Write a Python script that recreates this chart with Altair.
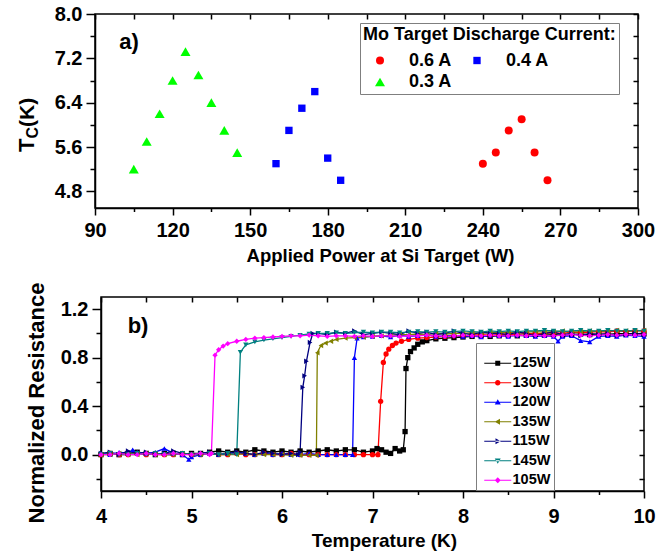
import altair as alt
import pandas as pd

FONT = "Liberation Sans"

# ---------------- panel (a): Tc versus applied Si power ----------------
currents = ["0.6 A", "0.3 A", "0.4 A"]
current_colors = ["#ff0000", "#00ff00", "#0000ff"]
current_shapes = ["circle", "triangle-up", "square"]
current_sizes = [64, 100, 54]

power_06 = [240, 245, 250, 255, 260, 265]
tc_06 = [5.3, 5.5, 5.9, 6.1, 5.5, 5.0]
power_04 = [160, 165, 170, 175, 180, 185]
tc_04 = [5.3, 5.9, 6.3, 6.6, 5.4, 5.0]
power_03 = [105, 110, 115, 120, 125, 130, 135, 140, 145]
tc_03 = [5.2, 5.7, 6.2, 6.8, 7.32, 6.9, 6.4, 5.9, 5.5]

a_x_domain = [90, 300]
a_y_domain = [4.5, 8.0]
a_x_major = [90, 120, 150, 180, 210, 240, 270, 300]
a_x_minor = [105, 135, 165, 195, 225, 255, 285]
a_y_major = [4.8, 5.6, 6.4, 7.2, 8.0]
a_y_minor = [5.2, 6.0, 6.8, 7.6]

# ---------------- panel (b): R(T) curves ----------------
series = ["125W", "130W", "120W", "135W", "115W", "145W", "105W"]
series_colors = ["#000000", "#ff0000", "#0000ff", "#808000", "#000080", "#008080", "#ff00ff"]
series_shapes = ["square", "circle", "triangle-up", "triangle-left",
                 "triangle-right", "triangle-down", "diamond"]
legend_paths = [
    "M-2.7,-0.1H2.7V0.1H-2.7Z M-0.5,-0.5H0.5V0.5H-0.5Z",
    "M-2.7,-0.1H2.7V0.1H-2.7Z M0.55,0A0.55,0.55,0,1,1,-0.55,0A0.55,0.55,0,1,1,0.55,0Z",
    "M-2.7,-0.1H2.7V0.1H-2.7Z M0,-0.6L0.6,0.45H-0.6Z",
    "M-2.7,-0.1H2.7V0.1H-2.7Z M-0.6,0L0.45,-0.6V0.6Z",
    "M-2.7,-0.1H2.7V0.1H-2.7Z M0.6,0L-0.45,-0.6V0.6Z",
    "M-2.7,-0.1H2.7V0.1H-2.7Z M0,0.6L0.6,-0.45H-0.6Z",
    "M-2.7,-0.1H2.7V0.1H-2.7Z M0,-0.6L0.6,0L0,0.6L-0.6,0Z",
]

t_125 = [4.0, 4.1, 4.2, 4.3, 4.4, 4.5, 4.6, 4.7, 4.8, 4.9,
         5.0, 5.1, 5.2, 5.3, 5.4, 5.5, 5.6, 5.7, 5.8, 5.9,
         6.0, 6.1, 6.2, 6.3, 6.4, 6.5, 6.6, 6.7, 6.8, 6.9,
         7.0, 7.05, 7.1, 7.15, 7.2, 7.25, 7.3, 7.34,
         7.36, 7.37, 7.39, 7.42, 7.46, 7.5, 7.55, 7.6, 7.7, 7.8, 7.9,
         8.0, 8.1, 8.2, 8.3, 8.4, 8.5, 8.6, 8.7, 8.8, 8.9,
         9.0, 9.1, 9.2, 9.3, 9.4, 9.5, 9.6, 9.7, 9.8, 9.9, 10.0]
r_125 = [0.0, 0.01, 0.0, 0.01, 0.02, 0.01, 0.0, 0.01, 0.01, 0.0,
         0.01, 0.01, 0.02, 0.03, 0.02, 0.03, 0.02, 0.04, 0.03, 0.02,
         0.03, 0.02, 0.03, 0.02, 0.03, 0.04, 0.03, 0.04, 0.04, 0.02,
         0.03, 0.05, 0.04, 0.02, 0.01, 0.05, 0.03, 0.04,
         0.19, 0.71, 0.8, 0.85, 0.88, 0.91, 0.93, 0.94, 0.955, 0.96, 0.965,
         0.97, 0.975, 0.98, 0.975, 0.98, 0.985, 0.98, 0.985, 0.99, 0.985,
         0.99, 0.985, 0.99, 0.995, 0.99, 0.995, 0.99, 1.0, 0.995, 1.0, 0.995]

t_130 = [4.0, 4.1, 4.2, 4.3, 4.4, 4.5, 4.6, 4.7, 4.8, 4.9,
         5.0, 5.1, 5.2, 5.3, 5.4, 5.5, 5.6, 5.7, 5.8, 5.9,
         6.0, 6.1, 6.2, 6.3, 6.4, 6.5, 6.6, 6.7, 6.8, 6.9,
         7.0, 7.06, 7.09, 7.12, 7.15, 7.18, 7.22, 7.26, 7.32, 7.4, 7.5, 7.6, 7.7, 7.8, 7.9,
         8.0, 8.1, 8.2, 8.3, 8.4, 8.5, 8.6, 8.7, 8.8, 8.9,
         9.0, 9.1, 9.2, 9.3, 9.4, 9.5, 9.6, 9.7, 9.8, 9.9, 10.0]
r_130 = [0.0, 0.01, 0.0, 0.0, 0.01, 0.0, 0.01, 0.0, 0.0, 0.01,
         0.0, 0.0, 0.01, 0.0, 0.0, 0.01, 0.0, 0.0, 0.01, 0.0,
         0.0, 0.01, 0.0, 0.0, 0.0, 0.0, 0.0, 0.0, 0.0, 0.0,
         0.0, 0.0, 0.44, 0.76, 0.83, 0.87, 0.9, 0.92, 0.935, 0.95, 0.96, 0.965, 0.97, 0.975, 0.98,
         0.98, 0.985, 0.99, 0.985, 0.99, 0.995, 0.99, 1.0, 0.995, 1.0,
         1.005, 1.0, 1.01, 1.005, 1.01, 1.015, 1.01, 1.02, 1.015, 1.02, 1.02]

t_120 = [4.0, 4.1, 4.2, 4.3, 4.35, 4.4, 4.5, 4.6, 4.7, 4.8, 4.9, 4.97,
         5.0, 5.1, 5.2, 5.3, 5.4, 5.5, 5.6, 5.7, 5.8, 5.9,
         6.0, 6.1, 6.2, 6.3, 6.4, 6.5, 6.6, 6.7,
         6.78, 6.8, 6.83, 6.9,
         7.0, 7.1, 7.2, 7.3, 7.4, 7.5, 7.6, 7.7, 7.8, 7.9,
         8.0, 8.1, 8.2, 8.3, 8.4, 8.5, 8.6, 8.7, 8.8, 8.9,
         9.0, 9.05, 9.1, 9.2, 9.3, 9.4, 9.5, 9.6, 9.7, 9.8, 9.9, 10.0]
r_120 = [0.01, 0.0, 0.02, 0.01, 0.04, 0.02, 0.01, 0.02, 0.05, 0.01, 0.0, -0.04,
         -0.02, 0.0, 0.01, 0.0, 0.01, 0.02, 0.01, 0.0, 0.01, 0.0,
         0.01, 0.0, 0.0, 0.01, 0.0, 0.0, 0.0, 0.0,
         0.0, 0.8, 0.96, 0.97,
         0.975, 0.98, 0.97, 0.985, 0.975, 0.98, 0.99, 0.975, 0.98, 0.985,
         0.975, 0.98, 0.97, 0.985, 0.98, 0.975, 0.985, 0.98, 0.975, 0.98,
         0.975, 0.935, 0.975, 0.98, 0.94, 0.93, 0.975, 0.98, 0.975, 0.985, 0.98, 0.975]

t_135 = [4.0, 4.1, 4.2, 4.3, 4.4, 4.5, 4.6, 4.7, 4.8, 4.9,
         5.0, 5.1, 5.2, 5.3, 5.4, 5.5, 5.6, 5.7, 5.8, 5.9,
         6.0, 6.1, 6.2, 6.3,
         6.38, 6.39, 6.43, 6.48, 6.54, 6.6, 6.7, 6.8, 6.9,
         7.0, 7.1, 7.2, 7.3, 7.4, 7.5, 7.6, 7.7, 7.8, 7.9,
         8.0, 8.1, 8.2, 8.3, 8.4, 8.5, 8.6, 8.7, 8.8, 8.9,
         9.0, 9.1, 9.2, 9.3, 9.4, 9.5, 9.6, 9.7, 9.8, 9.9, 10.0]
r_135 = [0.0, 0.0, 0.01, 0.0, 0.0, 0.01, 0.0, 0.0, 0.0, 0.01,
         0.0, 0.0, 0.01, 0.0, 0.0, 0.0, 0.01, 0.0, 0.0, 0.0,
         0.0, -0.005, -0.005, -0.005,
         -0.005, 0.84, 0.9, 0.92, 0.935, 0.95, 0.96, 0.965, 0.97,
         0.975, 0.98, 0.985, 0.99, 0.99, 0.995, 0.99, 1.0, 0.995, 1.0,
         1.0, 1.005, 1.0, 1.01, 1.005, 1.01, 1.0, 1.01, 1.015, 1.01,
         1.015, 1.02, 1.01, 1.015, 1.02, 1.015, 1.02, 1.025, 1.02, 1.02, 1.025]

t_115 = [4.0, 4.1, 4.2, 4.3, 4.4, 4.5, 4.6, 4.7, 4.8, 4.9,
         5.0, 5.1, 5.2, 5.3, 5.4, 5.5, 5.6, 5.7, 5.8, 5.9,
         6.0, 6.1,
         6.18, 6.2, 6.23, 6.25, 6.27, 6.31, 6.34,
         6.4, 6.5, 6.6, 6.7, 6.8, 6.9,
         7.0, 7.1, 7.2, 7.3, 7.4, 7.5, 7.6, 7.7, 7.8, 7.9,
         8.0, 8.1, 8.2, 8.3, 8.4, 8.5, 8.6, 8.7, 8.8, 8.9,
         9.0, 9.1, 9.2, 9.3, 9.4, 9.5, 9.6, 9.7, 9.8, 9.9, 10.0]
r_115 = [0.01, 0.02, 0.0, 0.03, 0.01, 0.02, 0.0, 0.01, 0.03, 0.01,
         0.0, 0.01, 0.02, 0.0, 0.01, 0.02, 0.01, 0.0, 0.02, 0.01,
         0.0, 0.01,
         0.0, 0.02, 0.555, 0.65, 0.77, 0.925, 1.0,
         1.0, 0.99, 1.01, 1.0, 1.02, 0.99,
         1.0, 1.01, 1.0, 0.99, 1.02, 1.0, 1.01, 0.99, 1.0, 1.02,
         1.0, 0.99, 1.01, 1.0, 1.0, 0.99, 1.01, 1.0, 0.98, 1.0,
         1.01, 0.99, 1.0, 0.98, 1.0, 0.99, 1.0, 0.98, 0.99, 1.0, 0.99]

t_145 = [4.0, 4.1, 4.2, 4.3, 4.4, 4.5, 4.6, 4.7, 4.8, 4.9,
         5.0, 5.1, 5.2, 5.3, 5.4, 5.5,
         5.54, 5.6, 5.7, 5.8, 5.9, 6.0, 6.1, 6.2, 6.3,
         6.4, 6.5, 6.6, 6.7, 6.8, 6.9,
         7.0, 7.1, 7.2, 7.3, 7.4, 7.5, 7.6, 7.7, 7.8, 7.9,
         8.0, 8.1, 8.2, 8.3, 8.4, 8.5, 8.6, 8.7, 8.8, 8.9,
         9.0, 9.1, 9.2, 9.3, 9.4, 9.5, 9.6, 9.7, 9.8, 9.9, 10.0]
r_145 = [0.0, 0.01, 0.0, 0.0, 0.01, 0.0, 0.01, 0.0, 0.0, 0.01,
         0.0, 0.0, 0.01, 0.0, 0.01, 0.0,
         0.845, 0.905, 0.93, 0.945, 0.955, 0.965, 0.975, 0.985, 0.995,
         1.0, 1.0, 1.005, 1.0, 1.005, 1.01,
         1.005, 1.01, 1.01, 1.005, 1.01, 1.015, 1.01, 1.015, 1.01, 1.015,
         1.02, 1.015, 1.01, 1.02, 1.015, 1.02, 1.015, 1.02, 1.02, 1.025,
         1.02, 1.015, 1.02, 1.025, 1.02, 1.02, 1.025, 1.02, 1.02, 1.025, 1.02]

t_105 = [4.0, 4.1, 4.2, 4.3, 4.4, 4.5, 4.6, 4.7, 4.8, 4.9,
         5.0, 5.1, 5.2,
         5.22, 5.26, 5.3, 5.35, 5.4, 5.5, 5.6, 5.7, 5.8, 5.9, 6.0, 6.1, 6.2, 6.3,
         6.4, 6.5, 6.6, 6.7, 6.8, 6.9,
         7.0, 7.1, 7.2, 7.3, 7.4, 7.5, 7.6, 7.7, 7.8, 7.9,
         8.0, 8.1, 8.2, 8.3, 8.4, 8.5, 8.6, 8.7, 8.8, 8.9,
         9.0, 9.1, 9.2, 9.3, 9.4, 9.5, 9.6, 9.7, 9.8, 9.9, 10.0]
r_105 = [0.0, 0.0, 0.01, 0.0, 0.0, 0.01, 0.0, 0.0, 0.01, 0.0,
         0.0, 0.01, 0.0,
         0.01, 0.82, 0.865, 0.895, 0.915, 0.935, 0.95, 0.96, 0.965, 0.97, 0.975, 0.98, 0.98, 0.985,
         0.98, 0.975, 0.98, 0.98, 0.975, 0.98,
         0.975, 0.98, 0.98, 0.975, 0.98, 0.98, 0.985, 0.98, 0.975, 0.98,
         0.985, 0.98, 0.98, 0.985, 0.98, 0.98, 0.985, 0.98, 0.985, 0.98,
         0.98, 0.985, 0.99, 0.985, 0.98, 0.985, 0.99, 0.985, 0.99, 0.985, 0.99]

b_x_domain = [4, 10]
b_y_domain = [-0.3, 1.3]
b_x_major = [4, 5, 6, 7, 8, 9, 10]
b_x_minor = [4.5, 5.5, 6.5, 7.5, 8.5, 9.5]
b_y_major = [0.0, 0.4, 0.8, 1.2]
b_y_minor = [-0.2, 0.2, 0.6, 1.0]

# ---------------- tables ----------------
df_a = pd.DataFrame({
    "power": power_06 + power_04 + power_03,
    "tc": tc_06 + tc_04 + tc_03,
    "current": ["0.6 A"] * len(power_06) + ["0.4 A"] * len(power_04)
               + ["0.3 A"] * len(power_03),
})

temps = [t_125, t_130, t_120, t_135, t_115, t_145, t_105]
ress = [r_125, r_130, r_120, r_135, r_115, r_145, r_105]
rows = []
for name, tl, rl in zip(series, temps, ress):
    if len(tl) != len(rl):
        raise ValueError(f"length mismatch {name}: {len(tl)} vs {len(rl)}")
    for tv, rv in zip(tl, rl):
        rows.append({"T": tv, "R": rv, "sample": name})
df_b = pd.DataFrame(rows)
df_key = pd.DataFrame({"key": series})


def tick_axis(orient, values, size, offset=0):
    return alt.Axis(orient=orient, values=values, tickSize=size, offset=offset,
                    labels=False, domain=False, title=None, grid=False, ticks=True)


def text_layer(txt, x, y, size, angle=0, align="center", baseline="middle"):
    kw = dict(font=FONT, fontWeight="bold", fontSize=size, align=align,
              baseline=baseline, color="black")
    if angle:
        kw["angle"] = angle
    return alt.Chart(pd.DataFrame({"t": [txt]})).mark_text(**kw).encode(
        x=alt.value(x), y=alt.value(y), text="t:N")


# ---------------- panel (a) ----------------
xa = alt.Scale(domain=a_x_domain, nice=False, zero=False)
ya = alt.Scale(domain=a_y_domain, nice=False, zero=False)

legend_a = alt.Legend(
    title="Mo Target Discharge Current:", orient="none", legendX=265, legendY=9,
    columns=2, padding=3, strokeColor="#7f7f7f", fillColor="white",
    titleFont=FONT, titleFontSize=18, titleFontWeight="bold", titleColor="black",
    titleLimit=500, titlePadding=7.5, labelFont=FONT, labelFontSize=18,
    labelFontWeight="bold", labelColor="black", labelLimit=200,
    symbolSize=64, symbolOffset=8, labelOffset=20,
    columnPadding=7, rowPadding=3.5, symbolStrokeWidth=0, symbolOpacity=1)

points_a = alt.Chart(df_a).mark_point(filled=True, opacity=1).encode(
    x=alt.X("power:Q", scale=xa, axis=alt.Axis(
        orient="bottom", values=a_x_major, tickSize=7, labelPadding=5,
        labelFlush=False, labelOverlap=False, format="d",
        title="Applied Power at Si Target (W)", titleFontSize=18.5,
        titleX=285, titleY=53, titleAlign="center", titleBaseline="alphabetic",
        grid=False)),
    y=alt.Y("tc:Q", scale=ya, axis=alt.Axis(
        orient="left", values=a_y_major, tickSize=9, labelPadding=4,
        format=".1f", labelOverlap=False, title=None, grid=False)),
    color=alt.Color("current:N", scale=alt.Scale(domain=currents, range=current_colors),
                    legend=legend_a),
    shape=alt.Shape("current:N", scale=alt.Scale(domain=currents, range=current_shapes),
                    legend=legend_a),
    size=alt.Size("current:N", scale=alt.Scale(type="ordinal", domain=currents,
                                               range=current_sizes),
                  legend=None),
)

minor_a = alt.Chart(df_a).mark_point(opacity=0).encode(
    x=alt.X("power:Q", scale=xa, axis=tick_axis("bottom", a_x_minor, 3.5)),
    y=alt.Y("tc:Q", scale=ya, axis=tick_axis("left", a_y_minor, 5)),
)
mirror_a = alt.Chart(df_a).mark_point(opacity=0).encode(
    x=alt.X("power:Q", scale=xa, axis=tick_axis("top", a_x_major + a_x_minor, 5, -5)),
    y=alt.Y("tc:Q", scale=ya, axis=tick_axis("right", a_y_major + a_y_minor, 5, -5)),
)

panel_a = alt.layer(
    points_a, minor_a, mirror_a,
    text_layer("a)", 34, 28, 22),
    text_layer("T", -61, 138, 22, angle=270, align="left", baseline="alphabetic"),
    text_layer("C", -57, 124.5, 16, angle=270, align="left", baseline="alphabetic"),
    text_layer("(K)", -61, 113, 21, angle=270, align="left", baseline="alphabetic"),
).resolve_axis(x="independent", y="independent").properties(width=543, height=194)

# ---------------- panel (b) ----------------
xb = alt.Scale(domain=b_x_domain, nice=False, zero=False)
yb = alt.Scale(domain=b_y_domain, nice=False, zero=False)
color_b = alt.Scale(domain=series, range=series_colors)

lines_b = alt.Chart(df_b).mark_line(strokeWidth=1.3).encode(
    x=alt.X("T:Q", scale=xb, axis=alt.Axis(
        orient="bottom", values=b_x_major, tickSize=7, labelPadding=8,
        labelFlush=False, labelOverlap=False, format="d",
        title="Temperature (K)", titleFontSize=19, titleX=283, titleY=55,
        titleAlign="center", titleBaseline="alphabetic", grid=False)),
    y=alt.Y("R:Q", scale=yb, axis=alt.Axis(
        orient="left", values=b_y_major, tickSize=9, labelPadding=4,
        format=".1f", labelOverlap=False, title="Normalized Resistance",
        titleFontSize=22, titleX=-65, titleY=105.5, titleAngle=270,
        titleAlign="center", titleBaseline="middle", grid=False)),
    color=alt.Color("sample:N", scale=color_b, legend=None),
)

points_b = alt.Chart(df_b).mark_point(filled=True, size=28, opacity=1).encode(
    x=alt.X("T:Q", scale=xb, axis=None),
    y=alt.Y("R:Q", scale=yb, axis=None),
    color=alt.Color("sample:N", scale=color_b, legend=None),
    shape=alt.Shape("sample:N", scale=alt.Scale(domain=series, range=series_shapes),
                    legend=None),
)

legend_b = alt.Legend(
    title=" ", orient="none", legendX=375, legendY=46, padding=3,
    strokeColor="#7f7f7f", fillColor="white", titleFontSize=10, titlePadding=0,
    labelFont=FONT, labelFontSize=14.5, labelFontWeight="bold", labelColor="black",
    symbolSize=100, symbolOffset=11.5, labelOffset=7.5, rowPadding=4.5,
    symbolStrokeWidth=0, symbolOpacity=1)

key_b = alt.Chart(df_key).transform_filter("false").mark_point(filled=True).encode(
    color=alt.Color("key:N", scale=alt.Scale(domain=series, range=series_colors),
                    legend=legend_b),
    shape=alt.Shape("key:N", scale=alt.Scale(domain=series, range=legend_paths),
                    legend=legend_b),
)

minor_b = alt.Chart(df_b).mark_point(opacity=0).encode(
    x=alt.X("T:Q", scale=xb, axis=tick_axis("bottom", b_x_minor, 3.5)),
    y=alt.Y("R:Q", scale=yb, axis=tick_axis("left", b_y_minor, 5)),
)
mirror_b = alt.Chart(df_b).mark_point(opacity=0).encode(
    x=alt.X("T:Q", scale=xb, axis=tick_axis("top", b_x_major + b_x_minor, 5, -5)),
    y=alt.Y("R:Q", scale=yb, axis=tick_axis("right", b_y_major + b_y_minor, 5, -5)),
)

panel_b = alt.layer(
    lines_b, points_b, minor_b, mirror_b, key_b,
    text_layer("b)", 37, 29, 22),
).resolve_axis(x="independent", y="independent").resolve_scale(
    color="independent", shape="independent").properties(width=543, height=194)

spacer = alt.Chart(pd.DataFrame({"s": [""]})).mark_text().encode(text="s:N").properties(
    width=1, height=194, view=alt.ViewBackground(stroke="transparent"))

bottom_row = alt.hconcat(spacer, panel_b, spacing=5, bounds="flush")

chart = alt.vconcat(panel_a, bottom_row, spacing=89, bounds="flush").properties(
    padding={"left": 15, "top": 3, "right": 5, "bottom": 5},
    background="white",
).configure_view(stroke="black", strokeWidth=1.5).configure_axis(
    labelFont=FONT, labelFontWeight="bold", labelFontSize=20, labelColor="black",
    titleFont=FONT, titleFontWeight="bold", titleColor="black",
    tickColor="black", domainColor="black", tickWidth=1.5, domainWidth=1.5, grid=False,
)

chart.save("out.html", embed_options={"renderer": "svg", "actions": False})
